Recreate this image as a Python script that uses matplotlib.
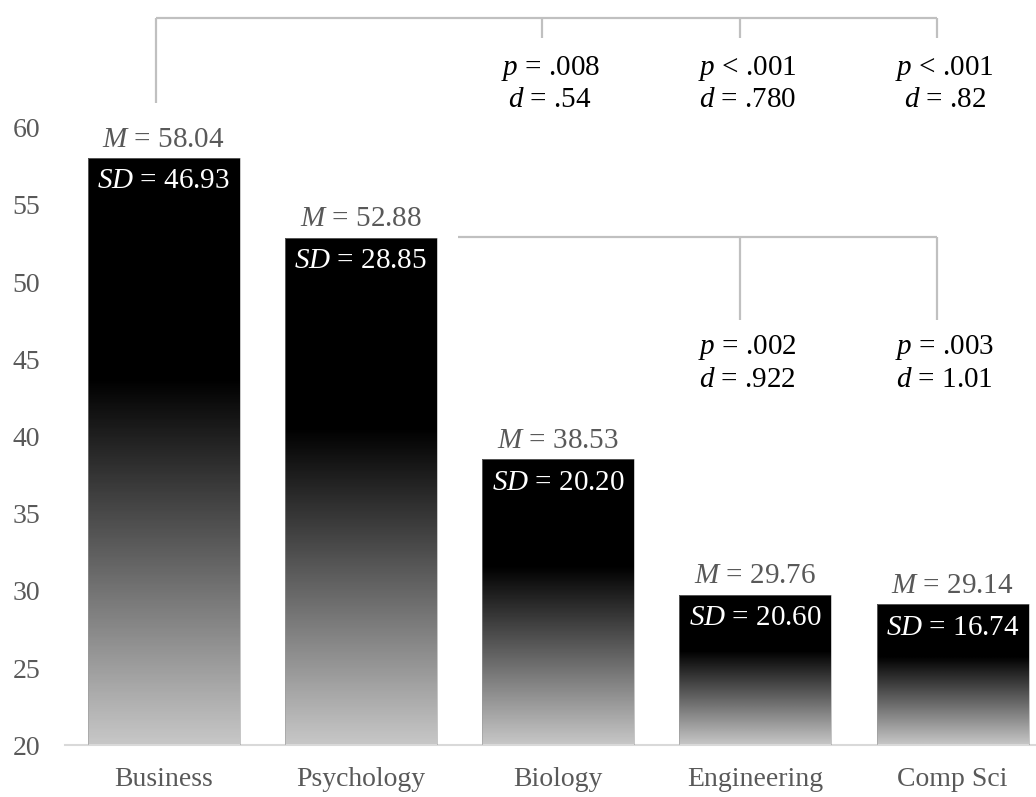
import numpy as np
import matplotlib
matplotlib.use("Agg")
import matplotlib.pyplot as plt

# ---- data ----
fields = ["Business", "Psychology", "Biology", "Engineering", "Comp Sci"]
means = [58.04, 52.88, 38.53, 29.76, 29.14]
sds = [46.93, 28.85, 20.20, 20.60, 16.74]

# pairwise comparisons: (compared field, p text, d text)
comparisons_business = [
    ("Biology", "= .008", ".54"),
    ("Engineering", "< .001", ".780"),
    ("Comp Sci", "< .001", ".82"),
]
comparisons_psychology = [
    ("Engineering", "= .002", ".922"),
    ("Comp Sci", "= .003", "1.01"),
]
y_ticks = [20, 25, 30, 35, 40, 45, 50, 55, 60]

# ---- style ----
plt.rcParams["font.family"] = ["Liberation Serif", "DejaVu Serif"]
plt.rcParams["mathtext.fontset"] = "custom"
plt.rcParams["mathtext.rm"] = "Liberation Serif"
plt.rcParams["mathtext.it"] = "Liberation Serif:italic"
FS = 21
FS_TICK = 20
GREY_TXT = "#595959"
LINE = "#c0c0c0"

W, H = 1036, 797
fig = plt.figure(figsize=(W / 100, H / 100), dpi=100)
base_px = 745.2
ppu = 15.44
ax = fig.add_axes([65 / W, (H - base_px) / H, 971 / W, base_px / H])
ax.set_xlim(-0.5, -0.5 + 971 / 197.25)
ax.set_ylim(20, 20 + base_px / ppu)

x = np.arange(len(fields))
bar_w = 0.77

# gradient: black over the upper part of each bar, fading to light grey at the base
n = 256
f = np.linspace(0, 1, n)  # 0 at top, 1 at base
g = np.clip((f - 0.375) / (1 - 0.375), 0, 1) * 0.78
grad = np.repeat(g[:, None], 2, axis=1)

bars = ax.bar(x, [m - 20 for m in means], bottom=20, width=bar_w,
              facecolor="none", edgecolor="#9a9a9a", linewidth=0.4, zorder=3)
for xi, m, b in zip(x, means, bars):
    im = ax.imshow(grad, cmap="gray", vmin=0, vmax=1, aspect="auto",
                   extent=(xi - bar_w / 2, xi + bar_w / 2, 20, m),
                   interpolation="bilinear", zorder=2)
    im.set_clip_path(b)

for xi, m, s in zip(x, means, sds):
    ax.annotate(f"$\\mathit{{M}}$ = {m:.2f}", (xi, m), xytext=(0, 13),
                textcoords="offset points", ha="center", va="center",
                fontsize=FS, color=GREY_TXT, zorder=5)
    ax.annotate(f"$\\mathit{{SD}}$ = {s:.2f}", (xi, m), xytext=(0, -17),
                textcoords="offset points", ha="center", va="center",
                fontsize=FS, color="white", zorder=5)

# axes styling
for side in ["left", "right", "top"]:
    ax.spines[side].set_visible(False)
ax.spines["bottom"].set_color("#d9d9d9")
ax.spines["bottom"].set_linewidth(1.5)
ax.set_yticks(y_ticks)
ax.set_yticklabels([str(t) for t in y_ticks])
ax.set_xticks(x)
ax.set_xticklabels(fields)
ax.tick_params(axis="y", length=0, pad=18, labelsize=FS_TICK, labelcolor=GREY_TXT)
ax.tick_params(axis="x", length=0, pad=16, labelsize=FS_TICK, labelcolor=GREY_TXT)

# comparison brackets
idx = {name: i for i, name in enumerate(fields)}
lk = dict(color=LINE, linewidth=1.6, clip_on=False, zorder=1,
          solid_capstyle="butt")
drop_off = -0.08

# Business vs others
top_y = 67.1
src = idx["Business"] - 0.04
targets = [idx[c[0]] + drop_off for c in comparisons_business]
ax.plot([src, max(targets)], [top_y, top_y], **lk)
ax.plot([src, src], [top_y, 61.6], **lk)
for (name, p, d), tx in zip(comparisons_business, targets):
    ax.plot([tx, tx], [top_y, 65.8], **lk)
    ax.text(tx + 0.04, 63.86, f"$\\mathit{{p}}$ {p}", ha="center", va="center",
            fontsize=FS, color="black", clip_on=False)
    ax.text(tx + 0.04, 61.79, f"$\\mathit{{d}}$ = {d}", ha="center", va="center",
            fontsize=FS, color="black", clip_on=False)

# Psychology vs others
mid_y = 52.91
src = idx["Psychology"] + 0.49
targets = [idx[c[0]] + drop_off for c in comparisons_psychology]
ax.plot([src, max(targets)], [mid_y, mid_y], **lk)
for (name, p, d), tx in zip(comparisons_psychology, targets):
    ax.plot([tx, tx], [mid_y, 47.54], **lk)
    ax.text(tx + 0.04, 45.73, f"$\\mathit{{p}}$ {p}", ha="center", va="center",
            fontsize=FS, color="black")
    ax.text(tx + 0.04, 43.66, f"$\\mathit{{d}}$ = {d}", ha="center", va="center",
            fontsize=FS, color="black")

fig.savefig("out.png", dpi=100)
